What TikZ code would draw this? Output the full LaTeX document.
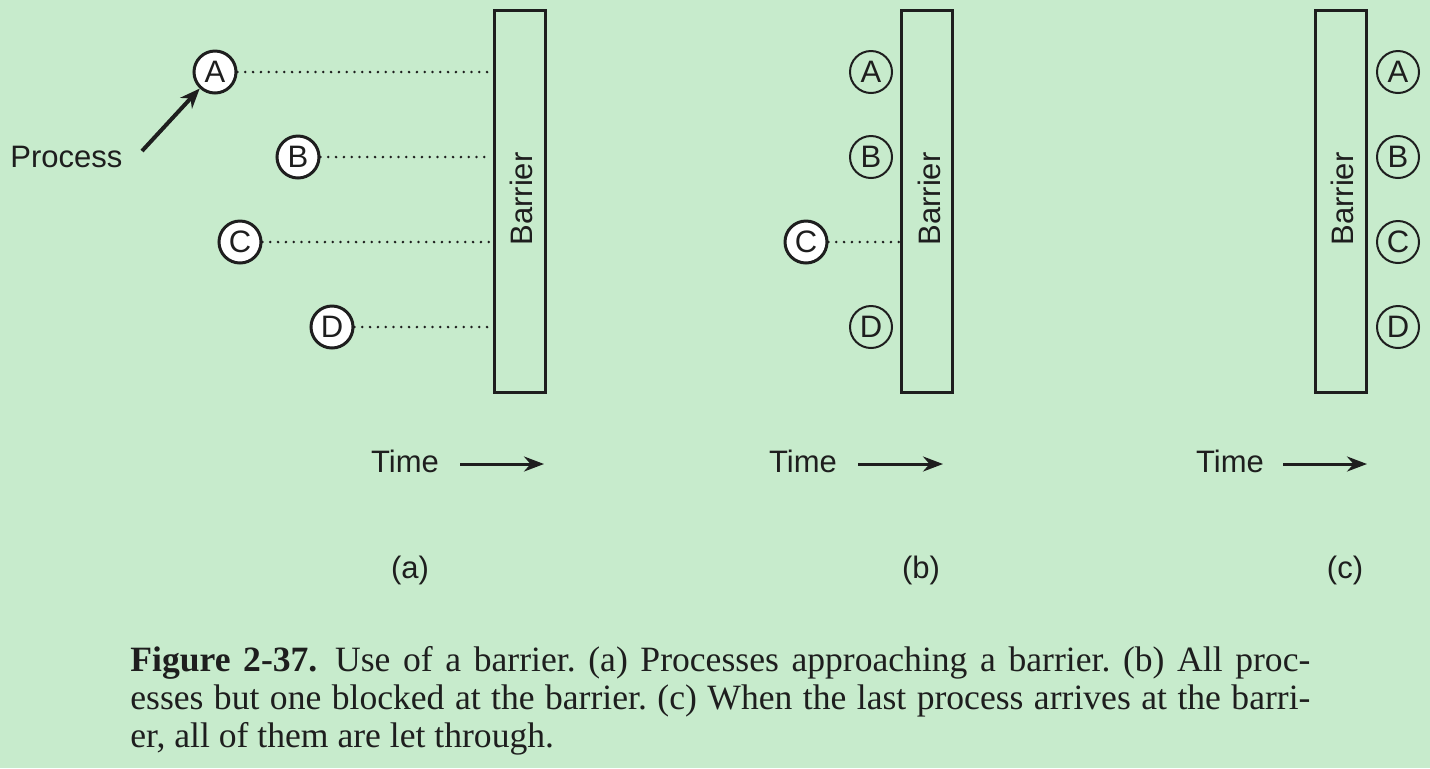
\documentclass[tikz,border=0pt]{standalone}
\usepackage{fontspec}
\setmainfont{Liberation Serif}
\newfontfamily\hv{Liberation Sans}
\usetikzlibrary{arrows.meta}
\definecolor{bg}{RGB}{199,235,204}
\definecolor{ink}{RGB}{30,30,30}
\tikzset{
  lbl/.style={font=\hv\fontsize{15.5}{18}\selectfont, text=ink, inner sep=0pt},
  procA/.style={circle, draw=ink, line width=1.5pt, fill=white, minimum size=21pt, inner sep=0pt, font=\hv\fontsize{15.5}{18}\selectfont, text=ink},
  procB/.style={circle, draw=ink, line width=1pt, minimum size=21pt, inner sep=0pt, font=\hv\fontsize{15.5}{18}\selectfont, text=ink},
  barrier/.style={draw=ink, line width=1.5pt, minimum width=25.5pt, minimum height=191pt, inner sep=0pt},
  wait/.style={ink, line width=1.4pt, line cap=round, dash pattern=on 0pt off 3.9pt},
  timearrow/.style={ink, line width=1.5pt, -{Stealth[length=10pt,width=7.5pt]}},
}
\begin{document}
\begin{tikzpicture}[x=0.5pt,y=-0.5pt]
\fill[bg] (0,0) rectangle (1430,768);
\useasboundingbox (0,0) rectangle (1430,768);

% (a)
\node[barrier] (barA) at (519.5,201) {};
\node[lbl, rotate=90] (barAt) at (521,199) {Barrier};
\node[procA] (aA) at (215,72) {A};
\node[procA] (aB) at (298,157) {B};
\node[procA] (aC) at (240,242) {C};
\node[procA] (aD) at (332,327) {D};
\coordinate (aAe) at (492,72);
\coordinate (aBe) at (492,157);
\coordinate (aCe) at (492,242);
\coordinate (aDe) at (492,327);
\draw[wait] (aA.east) -- (aAe);
\draw[wait] (aB.east) -- (aBe);
\draw[wait] (aC.east) -- (aCe);
\draw[wait] (aD.east) -- (aDe);
\node[lbl, anchor=west] (proc) at (10,157) {Process};
\coordinate (procs) at (142,151);
\draw[ink, line width=2pt, -{Stealth[length=10pt,width=8pt]}] (procs) -- (aA);
\node[lbl] (timeA) at (405,461) {Time};
\coordinate (tAs) at (460,464);
\coordinate (tAe) at (544,464);
\draw[timearrow] (tAs) -- (tAe);
\node[lbl] (capa) at (410,570) {(a)};

% (b)
\node[barrier] (barB) at (927,201) {};
\node[lbl, rotate=90] (barBt) at (929,199) {Barrier};
\node[procB] (bA) at (871,72) {A};
\node[procB] (bB) at (871,157) {B};
\node[procA] (bC) at (806,242) {C};
\node[procB] (bD) at (871,327) {D};
\coordinate (bCe) at (899,242);
\draw[wait] (bC.east) -- (bCe);
\node[lbl] (timeB) at (803,461) {Time};
\coordinate (tBs) at (858,464);
\coordinate (tBe) at (943,464);
\draw[timearrow] (tBs) -- (tBe);
\node[lbl] (capb) at (921,570) {(b)};

% (c)
\node[barrier] (barC) at (1340.5,201) {};
\node[lbl, rotate=90] (barCt) at (1342,199) {Barrier};
\node[procB] (cA) at (1398,72) {A};
\node[procB] (cB) at (1398,157) {B};
\node[procB] (cC) at (1398,242) {C};
\node[procB] (cD) at (1398,327) {D};
\node[lbl] (timeC) at (1230,461) {Time};
\coordinate (tCs) at (1283,464);
\coordinate (tCe) at (1367,464);
\draw[timearrow] (tCs) -- (tCe);
\node[lbl] (capc) at (1345,570) {(c)};

% caption
\node[anchor=north west, inner sep=0pt, text width=590pt, align=justify, text=ink,
      font=\fontsize{17.8}{19}\selectfont] (caption) at (130,646)
 {\frenchspacing\textbf{Figure 2-37.}\enspace Use of a barrier. (a) Processes approaching a barrier. (b) All proc-\linebreak
 esses but one blocked at the barrier. (c) When the last process arrives at the barri-\linebreak
 er, all of them are let through.};
\end{tikzpicture}
\end{document}
